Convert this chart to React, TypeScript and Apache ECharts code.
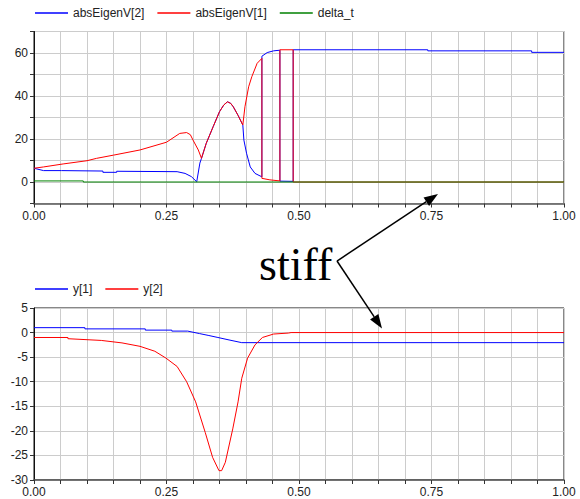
import React, { useEffect, useRef } from "react";
import * as echarts from "echarts";

// ---- data (time, value) ----
const absEigenV2: [number, number][] = [
  [0, 6.4], [0.018, 5.3], [0.052, 5.3], [0.052, 5.1], [0.13, 5.1], [0.13, 4.5],
  [0.156, 4.5], [0.156, 5.0], [0.27, 4.8], [0.285, 4.0], [0.297, 2.5], [0.307, 0.1],
  [0.313, 8.8], [0.316, 11], [0.325, 18], [0.338, 25.7], [0.35, 32.7], [0.358, 35.8],
  [0.365, 37.3], [0.371, 36.6], [0.376, 35], [0.385, 31], [0.394, 26.5], [0.396, 19.5],
  [0.401, 13.4], [0.408, 7.0], [0.417, 4.0], [0.43, 2.4], [0.43, 58.5], [0.44, 60.2],
  [0.452, 61], [0.464, 61.3], [0.464, 0.4], [0.489, 0.3], [0.489, 61.5], [0.743, 61.5],
  [0.743, 61.0], [0.939, 61.0], [0.939, 60.3], [1.0, 60.3],
];
const absEigenV1: [number, number][] = [
  [0, 6.4], [0.018, 7.0], [0.055, 8.4], [0.1, 9.9], [0.118, 11], [0.15, 12.5],
  [0.2, 14.9], [0.25, 18.5], [0.275, 22.6], [0.288, 23], [0.295, 22], [0.3, 19.5],
  [0.31, 14.9], [0.316, 11], [0.325, 18], [0.338, 25.7], [0.35, 32.7], [0.358, 35.8],
  [0.365, 37.3], [0.371, 36.6], [0.376, 35], [0.385, 31], [0.394, 26.5], [0.398, 35],
  [0.405, 44.3], [0.411, 49], [0.421, 55.2], [0.43, 57.5], [0.43, 1.7], [0.445, 1.0],
  [0.464, 0.5], [0.464, 61.5], [0.489, 61.5], [0.489, 0], [1.0, 0],
];
const deltaT: [number, number][] = [
  [0, 0.5], [0.093, 0.5], [0.093, 0], [1.0, 0],
];
const y1: [number, number][] = [
  [0, 1.0], [0.096, 1.0], [0.096, 0.75], [0.21, 0.75], [0.21, 0.5], [0.26, 0.5],
  [0.26, 0.3], [0.29, 0.3], [0.312, -0.2], [0.33, -0.6], [0.347, -1.0], [0.368, -1.5],
  [0.392, -2.05], [1.0, -2.05],
];
const y2: [number, number][] = [
  [0, -1.0], [0.064, -1.0], [0.064, -1.25], [0.127, -1.6], [0.166, -2.1], [0.2, -2.8],
  [0.228, -3.8], [0.249, -5.2], [0.27, -6.9], [0.288, -10], [0.305, -14.1],
  [0.323, -20.3], [0.337, -25.4], [0.349, -28.1], [0.354, -28.1], [0.361, -26.4],
  [0.375, -19.6], [0.385, -14.1], [0.392, -9.3], [0.403, -5.2], [0.417, -2.5],
  [0.431, -1.0], [0.452, -0.3], [0.48, -0.1], [0.485, 0], [1.0, 0],
];
const topLegend = ["absEigenV[2]", "absEigenV[1]", "delta_t"];
const bottomLegend = ["y[1]", "y[2]"];
const annotation = "stiff";

const FONT = "Liberation Sans, Arial, sans-serif";
const GRID_COLOR = "#cccccc";
const LABEL_COLOR = "#222222";

function xAxisCfg(gridIndex: number) {
  return {
    type: "value",
    gridIndex,
    min: 0,
    max: 1,
    interval: 0.05,
    axisLine: { show: true, onZero: false, lineStyle: { color: "#555", width: 1.5 } },
    axisTick: { show: true, length: 4, inside: false, lineStyle: { color: "#333" } },
    axisLabel: {
      margin: 6,
      color: LABEL_COLOR,
      fontFamily: FONT,
      fontSize: 12,
      showMinLabel: true,
      showMaxLabel: true,
      formatter: (v: number) => {
        const q = v / 0.25;
        return Math.abs(q - Math.round(q)) < 1e-6 ? v.toFixed(2) : "";
      },
    },
    splitLine: { show: true, lineStyle: { color: GRID_COLOR, width: 1 } },
  };
}

export default function App() {
  const ref = useRef<HTMLDivElement>(null);
  useEffect(() => {
    document.body.style.margin = "0";
    if (!ref.current) return;
    const chart = echarts.init(ref.current, null, { renderer: "svg" });

    const ah = (tip: [number, number], from: [number, number]) => {
      const dx = tip[0] - from[0];
      const dy = tip[1] - from[1];
      const len = Math.sqrt(dx * dx + dy * dy);
      const ux = dx / len, uy = dy / len;
      const px = -uy, py = ux;
      const L = 14, W = 5;
      const bx = tip[0] - L * ux, by = tip[1] - L * uy;
      return {
        line: { x1: from[0], y1: from[1], x2: bx, y2: by },
        poly: [tip, [bx + W * px, by + W * py], [bx - W * px, by - W * py]],
      };
    };
    const origin: [number, number] = [337, 261];
    const a1 = ah([438, 194], origin);
    const a2 = ah([382, 328.5], origin);

    chart.setOption({
      animation: false,
      backgroundColor: "#ffffff",
      grid: [
        { left: 34, top: 31.5, width: 530, height: 172, show: true, borderColor: "#111", borderWidth: 1, containLabel: false },
        { left: 34, top: 308, width: 530, height: 172, show: true, borderColor: "#111", borderWidth: 1, containLabel: false },
      ],
      legend: [
        {
          data: topLegend, left: 35, top: 7, padding: 0, itemGap: 13,
          icon: "rect", itemWidth: 33, itemHeight: 1.5, selectedMode: false,
          textStyle: { fontFamily: FONT, fontSize: 12, color: LABEL_COLOR },
        },
        {
          data: bottomLegend, left: 35, top: 283, padding: 0, itemGap: 13,
          icon: "rect", itemWidth: 33, itemHeight: 1.5, selectedMode: false,
          textStyle: { fontFamily: FONT, fontSize: 12, color: LABEL_COLOR },
        },
      ],
      xAxis: [xAxisCfg(0), xAxisCfg(1)],
      yAxis: [
        {
          type: "value", gridIndex: 0, min: -10, max: 70, interval: 10,
          axisLine: { show: true, onZero: false, lineStyle: { color: "#111", width: 1 } },
          axisTick: { show: true, length: 4, lineStyle: { color: "#333" } },
          axisLabel: {
            margin: 6, color: LABEL_COLOR, fontFamily: FONT, fontSize: 12,
            formatter: (v: number) => (Math.round(v) % 20 === 0 && v >= 0 ? String(Math.round(v)) : ""),
          },
          splitLine: { show: true, lineStyle: { color: GRID_COLOR, width: 1 } },
        },
        {
          type: "value", gridIndex: 1, min: -30, max: 5, interval: 5,
          axisLine: { show: true, onZero: false, lineStyle: { color: "#111", width: 1 } },
          axisTick: { show: true, length: 4, lineStyle: { color: "#333" } },
          axisLabel: {
            margin: 6, color: LABEL_COLOR, fontFamily: FONT, fontSize: 12,
            formatter: (v: number) => String(Math.round(v)),
          },
          splitLine: { show: true, lineStyle: { color: GRID_COLOR, width: 1 } },
        },
      ],
      series: [
        { name: topLegend[0], type: "line", xAxisIndex: 0, yAxisIndex: 0, data: absEigenV2, showSymbol: false, symbol: "none", color: "#0000ff", lineStyle: { width: 1, color: "#0000ff" } },
        { name: topLegend[1], type: "line", xAxisIndex: 0, yAxisIndex: 0, data: absEigenV1, showSymbol: false, symbol: "none", color: "#ff0000", lineStyle: { width: 1, color: "#ff0000" } },
        { name: topLegend[2], type: "line", xAxisIndex: 0, yAxisIndex: 0, data: deltaT, showSymbol: false, symbol: "none", color: "#008000", lineStyle: { width: 1, color: "#008000" } },
        { name: bottomLegend[0], type: "line", xAxisIndex: 1, yAxisIndex: 1, data: y1, showSymbol: false, symbol: "none", color: "#0000ff", lineStyle: { width: 1, color: "#0000ff" } },
        { name: bottomLegend[1], type: "line", xAxisIndex: 1, yAxisIndex: 1, data: y2, showSymbol: false, symbol: "none", color: "#ff0000", lineStyle: { width: 1, color: "#ff0000" } },
      ],
      graphic: [
        {
          type: "text", x: 259, y: 264, z: 100,
          style: { text: annotation, font: '46px "Liberation Serif", "Times New Roman", serif', fill: "#000", verticalAlign: "middle", align: "left" },
        },
        { type: "line", z: 100, shape: a1.line, style: { stroke: "#000", lineWidth: 1.5 } },
        { type: "polygon", z: 100, shape: { points: a1.poly }, style: { fill: "#000" } },
        { type: "line", z: 100, shape: a2.line, style: { stroke: "#000", lineWidth: 1.5 } },
        { type: "polygon", z: 100, shape: { points: a2.poly }, style: { fill: "#000" } },
      ],
    });
    return () => chart.dispose();
  }, []);
  return <div ref={ref} style={{ width: 580, height: 499 }} />;
}
